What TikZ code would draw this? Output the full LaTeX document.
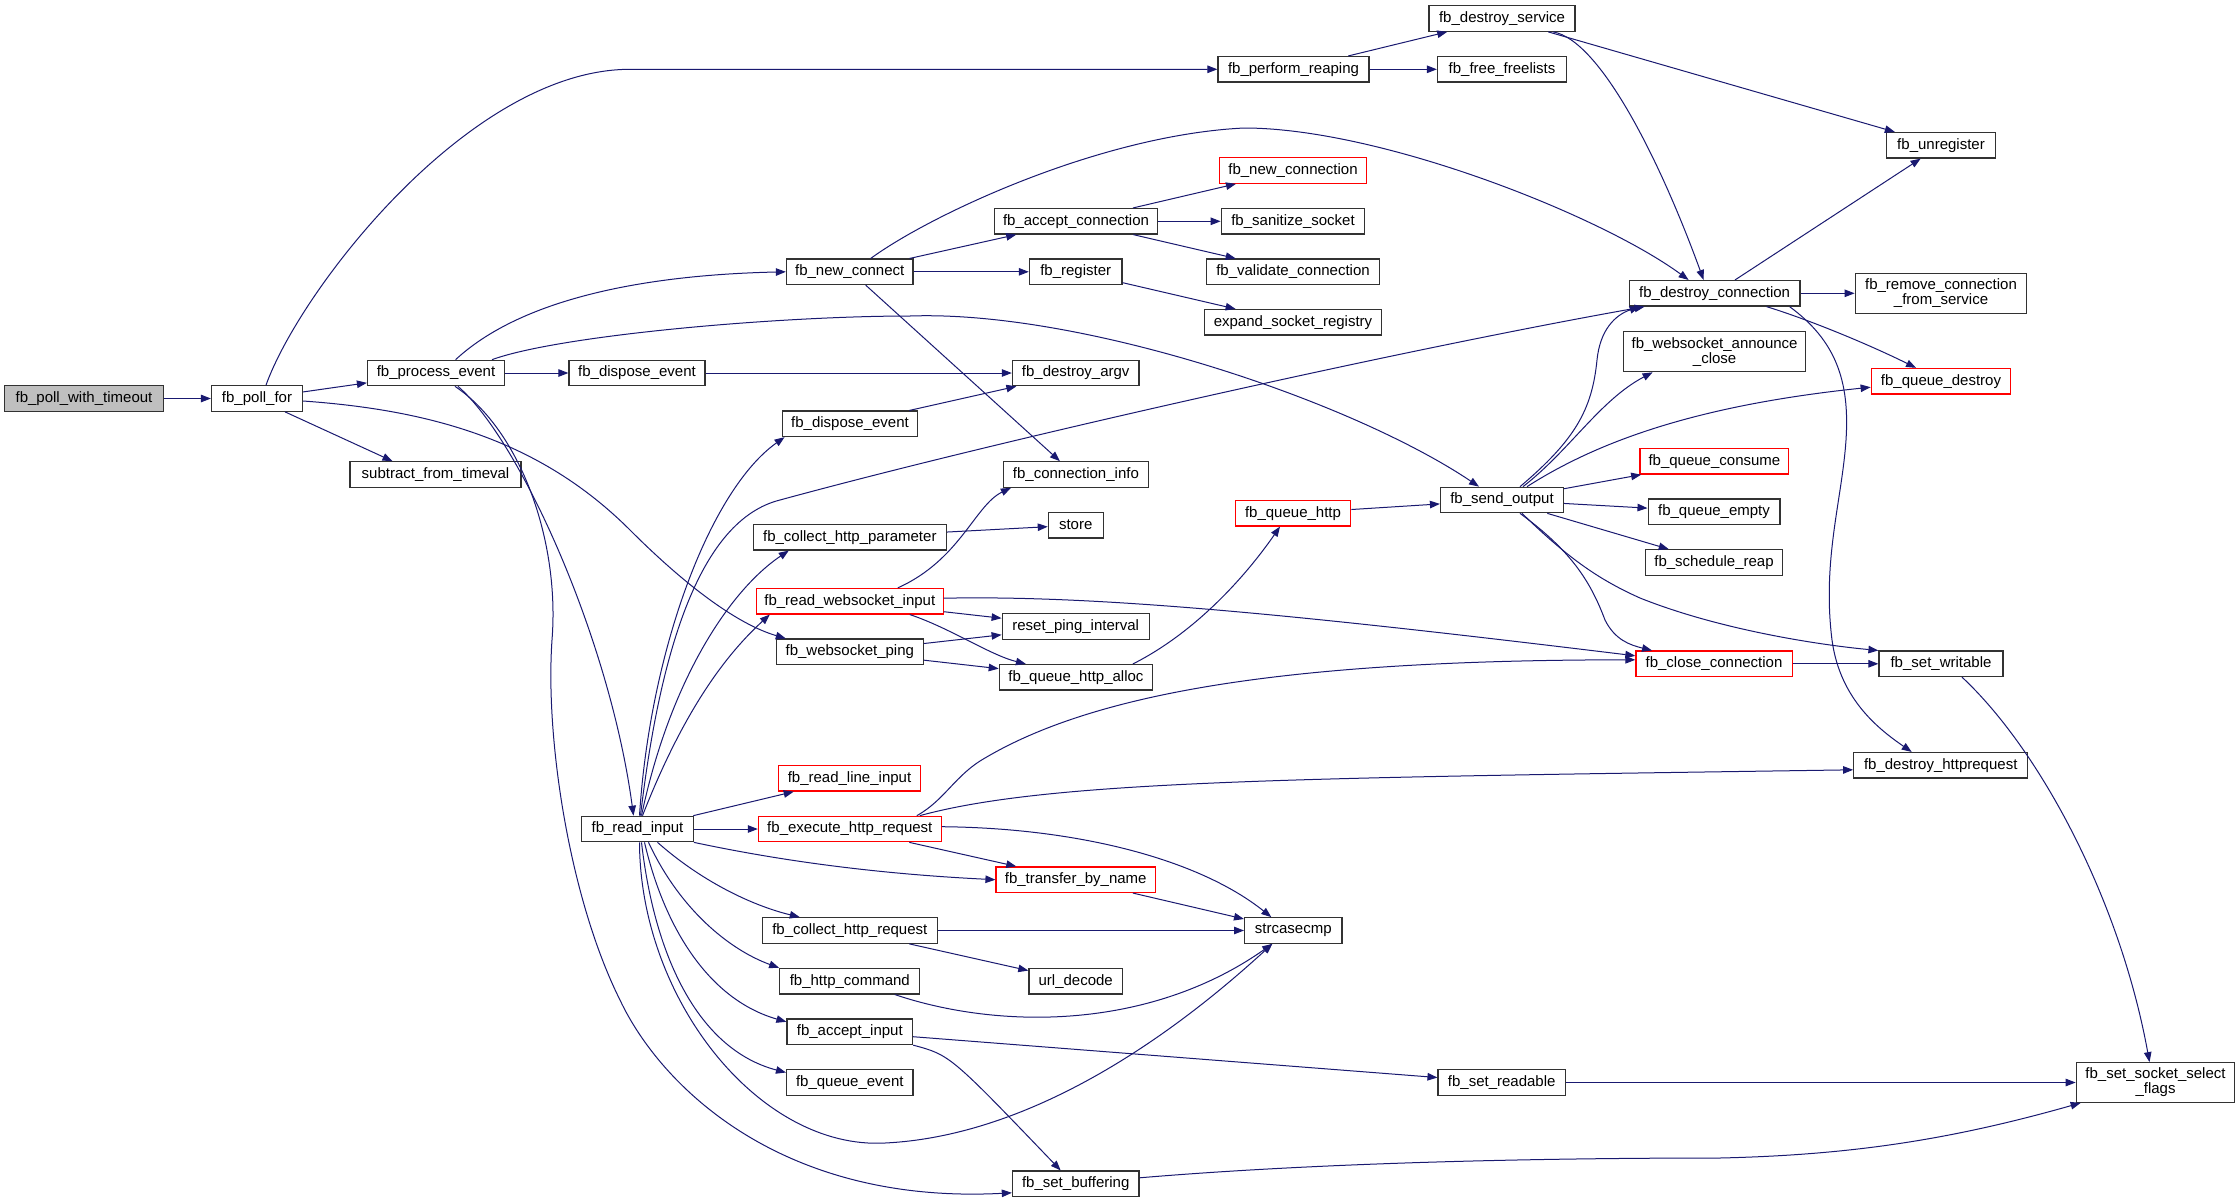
\documentclass[tikz,border=0pt]{standalone}
\usepackage{fontspec}
\newfontfamily\nodefontfam{Liberation Sans}
\usetikzlibrary{arrows.meta}
\definecolor{edgec}{RGB}{25,25,112}
\definecolor{boxc}{RGB}{50,50,50}
\newcommand\nodefontsz{\nodefontfam\fontsize{15}{15}\selectfont}
\tikzset{
  box/.style={draw=boxc, line width=1.2pt, fill=white, minimum height=25.5pt, inner sep=0pt, font=\nodefontsz, align=center},
  rbox/.style={box, draw=red},
  e/.style={draw=edgec, line width=1pt, -{Triangle[length=10pt,width=7.5pt]}},
}
\begin{document}
\begin{tikzpicture}[x=1pt,y=-1pt]
\fill[white] (0,0) rectangle (2236,1203);
\useasboundingbox (0,0) rectangle (2236,1203);

% nodes
\node[box, fill=gray!50, minimum width=159pt] (pwt) at (84,398.5) {fb\_poll\_with\_timeout};
\node[box, minimum width=91pt] (pf) at (257,398.5) {fb\_poll\_for};
\node[box, minimum width=137pt] (pe) at (436,373) {fb\_process\_event};
\node[box, minimum width=136pt] (de1) at (637,373) {fb\_dispose\_event};
\node[box, minimum width=171pt] (sft) at (435.5,474.5) {subtract\_from\_timeval};
\node[box, minimum width=111.5pt] (ri) at (637.5,829) {fb\_read\_input};
\node[box, minimum width=151pt] (pr) at (1293.5,69.3) {fb\_perform\_reaping};
\node[box, minimum width=146pt] (ds) at (1502,18.5) {fb\_destroy\_service};
\node[box, minimum width=129pt] (ff) at (1502,69.3) {fb\_free\_freelists};
\node[box, minimum width=108.6pt] (ur) at (1941,145.3) {fb\_unregister};
\node[box, minimum width=170.7pt] (dc) at (1714.6,293.3) {fb\_destroy\_connection};
\node[box, minimum width=171.6pt, minimum height=40pt] (rcs) at (1941,293.3) {fb\_remove\_connection\\\_from\_service};
\node[box, minimum width=182pt, minimum height=40pt] (wac) at (1714.6,351.7) {fb\_websocket\_announce\\\_close};
\node[rbox, minimum width=139.6pt] (qd) at (1941,381.2) {fb\_queue\_destroy};
\node[rbox, minimum width=147.4pt] (nc) at (1293,170.5) {fb\_new\_connection};
\node[box, minimum width=163pt] (ac) at (1076,221.3) {fb\_accept\_connection};
\node[box, minimum width=143.5pt] (ss) at (1293,221.3) {fb\_sanitize\_socket};
\node[box, minimum width=126.5pt] (ncon) at (849.7,271.8) {fb\_new\_connect};
\node[box, minimum width=92.6pt] (reg) at (1075.7,271.8) {fb\_register};
\node[box, minimum width=173.6pt] (vc) at (1293,271.8) {fb\_validate\_connection};
\node[box, minimum width=176.4pt] (esr) at (1293,322.3) {expand\_socket\_registry};
\node[box, minimum width=126.6pt] (da) at (1075.7,373) {fb\_destroy\_argv};
\node[box, minimum width=135.7pt] (de2) at (850,423.8) {fb\_dispose\_event};
\node[box, minimum width=145.4pt] (ci) at (1075.9,474.5) {fb\_connection\_info};
\node[box, minimum width=193.4pt] (chp) at (849.8,537.2) {fb\_collect\_http\_parameter};
\node[box, minimum width=54.8pt] (st) at (1075.7,525.2) {store};
\node[rbox, minimum width=115.4pt] (qh) at (1293,513.2) {fb\_queue\_http};
\node[box, minimum width=123pt] (so) at (1502,500) {fb\_send\_output};
\node[rbox, minimum width=186.6pt] (rwi) at (849.8,601.2) {fb\_read\_websocket\_input};
\node[box, minimum width=147pt] (rpi) at (1075.7,626.5) {reset\_ping\_interval};
\node[box, minimum width=146.8pt] (wp) at (849.8,651.8) {fb\_websocket\_ping};
\node[box, minimum width=153.2pt] (qha) at (1075.9,677.3) {fb\_queue\_http\_alloc};
\node[rbox, minimum width=148.8pt] (qc) at (1714.4,461.3) {fb\_queue\_consume};
\node[box, minimum width=131.8pt] (qe) at (1714,511.8) {fb\_queue\_empty};
\node[box, minimum width=136.7pt] (sr) at (1714,562.5) {fb\_schedule\_reap};
\node[rbox, minimum width=156.2pt] (cc) at (1714,663.8) {fb\_close\_connection};
\node[box, minimum width=124pt] (sw) at (1941,663.8) {fb\_set\_writable};
\node[box, minimum width=174pt] (dh) at (1940.7,765.3) {fb\_destroy\_httprequest};
\node[rbox, minimum width=142.5pt] (rli) at (849.5,778.3) {fb\_read\_line\_input};
\node[rbox, minimum width=182.8pt] (ehr) at (849.8,829) {fb\_execute\_http\_request};
\node[rbox, minimum width=159.4pt] (tbn) at (1075.7,879.7) {fb\_transfer\_by\_name};
\node[box, minimum width=175pt] (chr) at (849.8,930.5) {fb\_collect\_http\_request};
\node[box, minimum width=97.4pt] (sc) at (1293.3,930.5) {strcasecmp};
\node[box, minimum width=140.1pt] (hc) at (849.8,981.2) {fb\_http\_command};
\node[box, minimum width=93.6pt] (ud) at (1075.7,981.2) {url\_decode};
\node[box, minimum width=125.6pt] (ai) at (849.8,1031.8) {fb\_accept\_input};
\node[box, minimum width=126.5pt] (qev) at (849.8,1082.5) {fb\_queue\_event};
\node[box, minimum width=126.6pt] (sb) at (1075.7,1183.8) {fb\_set\_buffering};
\node[box, minimum width=127.3pt] (sra) at (1501.7,1082.5) {fb\_set\_readable};
\node[box, minimum width=158.5pt, minimum height=39.6pt] (ssf) at (2155.5,1082.5) {fb\_set\_socket\_select\\\_flags};

% edges
\draw[e] (pwt) -- (pf);
\draw[e] ([xshift=9pt]pf.north) .. controls (300,290) and (470,69.3) .. (630,69.3) -- (pr.west);
\draw[e] (pf) -- (pe);
\draw[e] ([xshift=28pt]pf.south) -- ([xshift=-43pt]sft.north);
\draw[e] ([yshift=-2.5pt]pf.east) .. controls (430,410) and (540,440) .. (630,530) .. controls (690,590) and (740,625) .. ([xshift=10pt]wp.north west);

\draw[e] ([xshift=19.6pt]pe.north) .. controls (520,300) and (640,275) .. (ncon.west);
\draw[e] ([xshift=56pt]pe.north) .. controls (560,335) and (780,316) .. (910,316) .. controls (1080,310) and (1350,400) .. ([xshift=-23pt]so.north);
\draw[e] (pe) -- (de1);
\draw[e] ([xshift=22pt]pe.south) .. controls (520,440) and (610,640) .. ([xshift=-4pt]ri.north);
\draw[e] ([xshift=19pt]pe.south) .. controls (520,430) and (560,540) .. (552,640) .. controls (545,740) and (570,900) .. (620,1000) .. controls (660,1085) and (780,1205) .. ([yshift=-9pt]sb.west);

\draw[e] (ncon) -- (ac);
\draw[e] (ncon) -- (reg);
\draw[e] ([xshift=21pt]ncon.north) .. controls (930,215) and (1100,135) .. (1244,128) .. controls (1380,128) and (1600,215) .. ([xshift=-26pt]dc.north);
\draw[e] ([xshift=16pt]ncon.south) -- ([xshift=-16pt]ci.north);
\draw[e] (ac) -- (nc);
\draw[e] (ac) -- (ss);
\draw[e] (ac) -- (vc);
\draw[e] (reg) -- (esr);
\draw[e] (de1) -- (da);
\draw[e] (de2) -- (da);

\draw[e] (pr) -- (ds);
\draw[e] (pr) -- (ff);
\draw[e] (ds) -- (ur);
\draw[e] ([xshift=51pt]ds.south) .. controls (1600,40) and (1660,160) .. ([xshift=-11pt]dc.north);
\draw[e] (dc) -- (ur);
\draw[e] (dc) -- (rcs);
\draw[e] ([xshift=52pt]dc.south) .. controls (1810,320) and (1870,345) .. ([xshift=-25pt]qd.north);
\draw[e] ([xshift=75pt]dc.south) .. controls (1835,340) and (1850,380) .. (1846,440) .. controls (1842,500) and (1822,560) .. (1832,640) .. controls (1840,700) and (1880,730) .. ([xshift=-29pt]dh.north);

\draw[e] ([xshift=2pt]ri.north) .. controls (650,650) and (710,490) .. ([xshift=3pt]de2.south west);
\draw[e] ([xshift=3pt]ri.north) .. controls (660,650) and (700,520) .. (780,500) .. controls (1000,440) and (1400,350) .. ([xshift=-70pt]dc.south);
\draw[e] ([xshift=4pt]ri.north) .. controls (670,680) and (730,590) .. ([xshift=-61pt]chp.south);
\draw[e] ([xshift=5pt]ri.north) .. controls (680,720) and (720,660) .. ([xshift=-80pt]rwi.south);
\draw[e] (ri) -- (rli);
\draw[e] (ri) -- (ehr);
\draw[e] (ri.south east) .. controls (800,865) and (900,875) .. (tbn.west);
\draw[e] ([xshift=20pt]ri.south) .. controls (700,880) and (750,905) .. ([xshift=-50pt]chr.north);
\draw[e] ([xshift=11pt]ri.south) .. controls (680,910) and (730,950) .. (hc.north west);
\draw[e] ([xshift=7pt]ri.south) .. controls (665,930) and (710,1000) .. ([yshift=10pt]ai.west);
\draw[e] ([xshift=4pt]ri.south) .. controls (655,960) and (700,1050) .. ([yshift=10pt]qev.west);
\draw[e] ([xshift=2pt]ri.south) .. controls (640,1000) and (760,1150) .. (885,1143) .. controls (1050,1135) and (1200,1010) .. ([xshift=-21pt]sc.south);

\draw[e] (chp) -- (st);
\draw[e] ([xshift=48pt]rwi.north) .. controls (960,560) and (975,505) .. ([xshift=-65pt]ci.south);
\draw[e] (rwi) -- (rpi);
\draw[e] ([xshift=60pt]rwi.south) .. controls (950,628) and (990,655) .. ([xshift=-50pt]qha.north);
\draw[e] ([yshift=3pt]rwi.east) .. controls (1100,595) and (1300,615) .. ([yshift=8pt]cc.west);
\draw[e] (wp) -- (rpi);
\draw[e] (wp) -- (qha);
\draw[e] ([xshift=57pt]qha.north) .. controls (1200,630) and (1250,570) .. ([xshift=-13pt]qh.south);
\draw[e] (qh) -- (so);

\draw[e] ([xshift=18pt]so.north) .. controls (1575,440) and (1592,410) .. (1597,360) .. controls (1600,330) and (1615,315) .. ([xshift=-75pt]dc.south);
\draw[e] ([xshift=21pt]so.north) .. controls (1570,450) and (1600,400) .. ([xshift=-62pt]wac.south);
\draw[e] ([xshift=25pt]so.north) .. controls (1600,440) and (1700,405) .. ([yshift=-6pt]qd.west);
\draw[e] (so) -- (qc);
\draw[e] (so) -- (qe);
\draw[e] (so) -- (sr);
\draw[e] ([xshift=18pt]so.south) .. controls (1570,550) and (1590,580) .. (1605,620) .. controls (1615,640) and (1630,645) .. ([xshift=-62pt]cc.north);
\draw[e] ([xshift=20pt]so.south) .. controls (1570,560) and (1600,580) .. (1640,598) .. controls (1720,630) and (1820,645) .. (sw.north west);
\draw[e] (cc) -- (sw);
\draw[e] ([xshift=21pt]sw.south) .. controls (2040,750) and (2120,900) .. ([xshift=-6pt]ssf.north);

\draw[e] ([xshift=67pt]ehr.north) .. controls (945,800) and (955,775) .. (985,758) .. controls (1100,690) and (1300,660) .. ([yshift=4pt]cc.west);
\draw[e] ([xshift=70pt]ehr.north) .. controls (1050,780) and (1300,778) .. ([yshift=-4.5pt]dh.west);
\draw[e] (ehr) -- (tbn);
\draw[e] ([yshift=2.3pt]ehr.east) .. controls (1080,828) and (1200,860) .. ([xshift=-22pt]sc.north);
\draw[e] (tbn) -- (sc);
\draw[e] (chr) -- (sc);
\draw[e] (chr) -- (ud);
\draw[e] ([xshift=45pt]hc.south) .. controls (1000,1030) and (1150,1030) .. ([xshift=-21pt]sc.south);
\draw[e] (ai) -- (sra);
\draw[e] (ai.south east) .. controls (950,1055) .. ([xshift=-15pt]sb.north);
\draw[e] (sra) -- (ssf);
\draw[e] ([yshift=6pt]sb.east) .. controls (1350,1160) and (1600,1158) .. (1720,1158) .. controls (1850,1155) and (1950,1140) .. ([xshift=5pt]ssf.south west);
\end{tikzpicture}
\end{document}
